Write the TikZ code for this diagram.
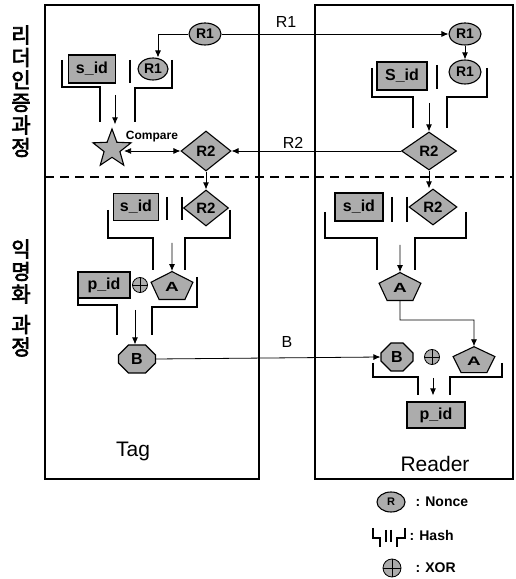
\documentclass[tikz,border=0pt]{standalone}
\usepackage{fontspec}
\setmainfont{Liberation Sans}
\newfontfamily\kr{Noto Sans CJK KR}[AutoFakeBold=3]
\usetikzlibrary{shapes.geometric,shapes.misc,arrows.meta}
\tikzset{
  sh/.style={draw=black, line width=1.1pt, fill=gray!65, inner sep=0pt, font=\fontsize{14}{14}\selectfont\bfseries},
  nonce/.style={sh, ellipse, minimum width=32pt, minimum height=22pt},
  idbox/.style={sh, rectangle, minimum width=48pt, minimum height=28pt, font=\fontsize{16}{16}\selectfont\bfseries},
  dia/.style={sh, diamond, minimum width=50pt, minimum height=40pt, font=\fontsize{15}{15}\selectfont\bfseries},
  penta/.style={sh, regular polygon, regular polygon sides=5, minimum size=44pt, font=\fontsize{19}{19}\selectfont\bfseries},
  octa/.style={sh, chamfered rectangle, chamfered rectangle xsep=5pt, chamfered rectangle ysep=5pt, minimum width=36pt, minimum height=28pt, font=\fontsize{16}{16}\selectfont\bfseries},
  xorc/.style={draw=black, circle, fill=gray!65, minimum size=15pt, inner sep=0pt, line width=0.8pt,
    path picture={\draw[line width=0.8pt] (path picture bounding box.north) -- (path picture bounding box.south)
      (path picture bounding box.west) -- (path picture bounding box.east);}},
  hashl/.style={line width=2.4pt},
  barl/.style={line width=1.4pt},
  flow/.style={-{Latex[length=7pt,width=6pt]}, line width=0.9pt},
  msg/.style={-{Latex[length=7pt,width=6pt]}, line width=0.8pt},
  lane/.style={line width=1.2pt},
  msglbl/.style={font=\fontsize{16}{16}\selectfont},
  title/.style={font=\fontsize{21}{21}\selectfont},
  legtxt/.style={anchor=west, font=\fontsize{14}{14}\selectfont\bfseries},
  krtxt/.style={anchor=north, align=center, font=\kr\bfseries\fontsize{21}{22.5}\selectfont},
}
\begin{document}
\begin{tikzpicture}[x=1pt,y=1pt]
\useasboundingbox (0,0) rectangle (515,579);
% lanes
\draw[lane] (45,100) rectangle (259,574);
\draw[lane] (315,100) rectangle (513,574);
\draw[line width=2.2pt, dash pattern=on 9pt off 6pt] (45,402) -- (513,402);
% korean side labels
\node[krtxt] (k1) at (21,557) {리\\더\\인\\증\\과\\정};
\node[krtxt] (k2) at (21,343) {익\\명\\화\\[8pt]과\\정};

% ---------- Tag upper ----------
\node[nonce] (tR1a) at (205,545) {R1};
\node[nonce, minimum width=30pt] (tR1b) at (153,510) {R1};
\node[idbox, minimum width=47pt] (tsid1) at (92,510) {s\_id};
\draw[hashl] (62,519) -- (62,492) -- (100,492) -- (100,457);
\draw[hashl] (172,519) -- (172,491) -- (135,491) -- (135,457);
\draw[barl] (130,519) -- (130,496);
\draw[msg] (tR1a.west) -| ([xshift=5pt]tR1b.north);
\node[sh, star, star points=5, star point ratio=2.4, minimum size=40pt] (star) at (112,430) {};
\node[font=\fontsize{12}{12}\selectfont\bfseries] (cmp) at (152,442) {Compare};
\node[dia] (tR2a) at (206,428) {R2};
\coordinate (h1) at (115,484);
\draw[flow] (h1) -- ([yshift=3pt]h1 |- star.north);
\draw[{Latex[length=7pt,width=6pt]}-{Latex[length=7pt,width=6pt]}, line width=0.8pt] (star.east |- tR2a.west) -- (tR2a.west);

% ---------- Tag lower ----------
\node[dia, minimum width=45pt, minimum height=36pt] (tR2b) at (206,371) {R2};
\node[idbox, minimum width=45pt, minimum height=27pt] (tsid2) at (136,372) {s\_id};
\draw[barl] (167,382) -- (167,359);
\draw[barl] (182,382) -- (182,359);
\draw[flow] (tR2a.south) -- (tR2b.north);
\draw[hashl] (108,369) -- (108,341) -- (153,341) -- (153,309);
\draw[hashl] (230,369) -- (230,341) -- (185,341) -- (185,309);
\begin{scope}[shift={(172,292)}, yscale=0.7]
\node[penta, transform shape] (tA) at (0,0) {A};
\end{scope}
\coordinate (h2) at (172,336);
\draw[flow] (h2) -- (tA.north);
\node[xorc] (tX) at (140,294) {};
\node[idbox, minimum width=52pt, minimum height=26pt] (tpid) at (104,294) {p\_id};
\draw[hashl] (78,287) -- (78,274) -- (117,274) -- (117,244);
\draw[hashl] (197,302) -- (197,272) -- (152,272) -- (152,244);
\node[octa, minimum width=37pt] (tB) at (137,220) {B};
\coordinate (h3) at (135,269);
\draw[flow] (h3) -- (h3 |- tB.north);
\node[title] (tag) at (133,128) {Tag};

% ---------- Reader upper ----------
\node[nonce] (rR1a) at (465,545) {R1};
\node[nonce, minimum height=24pt] (rR1b) at (465,507) {R1};
\node[idbox, minimum width=50pt] (rsid1) at (402,503) {S\_id};
\draw[barl] (437,514) -- (437,490);
\draw[hashl] (372,511) -- (372,482) -- (413,482) -- (413,451);
\draw[hashl] (487,511) -- (487,482) -- (447,482) -- (447,451);
\draw[flow] (rR1a.south) -- (rR1b.north);
\node[dia, minimum width=55pt, minimum height=38pt] (rR2a) at (429,428) {R2};
\coordinate (h4) at (429,476);
\draw[flow] (h4) -- (rR2a.north);

% ---------- Reader lower ----------
\node[dia, minimum width=48pt, minimum height=36pt] (rR2b) at (433,372) {R2};
\node[idbox, minimum width=48pt] (rsid2) at (359,372) {s\_id};
\draw[barl] (392,382) -- (392,357);
\draw[barl] (407,382) -- (407,357);
\draw[flow] (rR2a.south) -- (rR2a.south |- rR2b.north);
\draw[hashl] (325,367) -- (325,341) -- (377,341) -- (377,309);
\draw[hashl] (466,367) -- (466,341) -- (415,341) -- (415,309);
\begin{scope}[shift={(400,291)}, yscale=0.7]
\node[penta, transform shape] (rA1) at (0,0) {A};
\end{scope}
\coordinate (h5) at (400,334);
\draw[flow] (h5) -- (rA1.north);
\node[octa, minimum width=32pt] (rB) at (397,222) {B};
\node[xorc] (rX) at (432,222) {};
\begin{scope}[shift={(474,218)}, yscale=0.65]
\node[penta, transform shape] (rA2) at (0,0) {A};
\end{scope}
\draw[msg, line width=0.7pt] (rA1.south) -- (400,259) -| (rA2.north);
\draw[hashl] (373,216) -- (373,202) -- (418,202) -- (418,184);
\draw[hashl] (502,216) -- (502,202) -- (450,202) -- (450,184);
\node[idbox, minimum width=58pt, minimum height=26pt] (rpid) at (436,164) {p\_id};
\coordinate (h6) at (433,201);
\draw[flow, shorten >=6pt] (h6) -- (h6 |- rpid.north);
\node[title] (reader) at (435,115) {Reader};

% ---------- messages ----------
\draw[msg] (tR1a.east) -- (rR1a.west);
\node[msglbl] (lR1) at (286,557) {R1};
\draw[msg] (rR2a.west) -- (tR2a.east);
\node[msglbl] (lR2) at (293,436) {R2};
\draw[msg] (tB.east) -- (rB.west);
\node[msglbl] (lB) at (287,237) {B};

% ---------- legend ----------
\node[nonce, minimum width=28pt, minimum height=20pt, font=\fontsize{11}{11}\selectfont\bfseries] (lgN) at (391,77) {R};
\node[legtxt] (lgNt) at (412,77) {: Nonce};
\draw[line width=2pt] (373,51) -- (373,41) -- (380,41) -- (380,32);
\draw[line width=1.2pt] (386,49) -- (386,37) (391,49) -- (391,37);
\draw[line width=2pt] (405,51) -- (405,41) -- (397,41) -- (397,32);
\node[legtxt] (lgHt) at (406,44) {: Hash};
\node[xorc, minimum size=18pt] (lgX) at (392,11) {};
\node[legtxt] (lgXt) at (412,11) {: XOR};
\end{tikzpicture}
\end{document}
